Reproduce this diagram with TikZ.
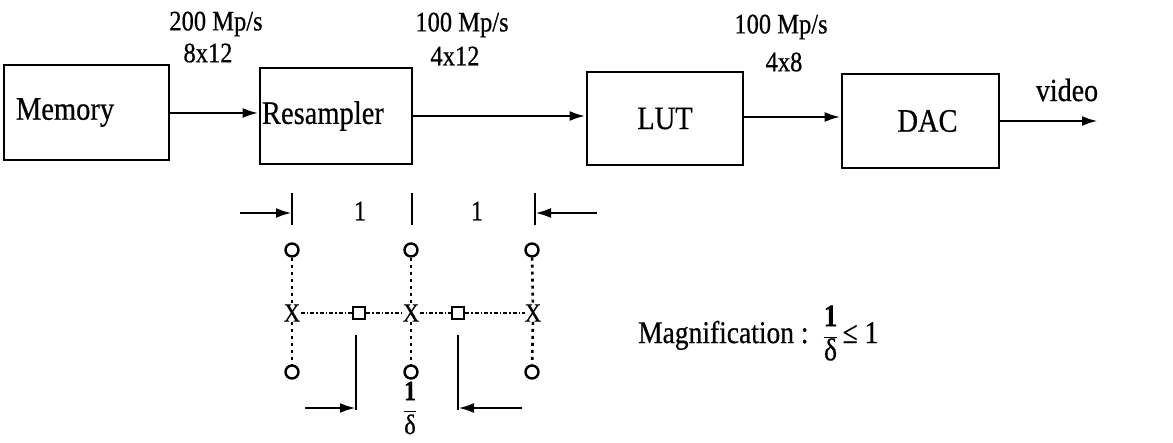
\documentclass[tikz,border=0pt]{standalone}
\usepackage{fontspec}
\setmainfont{Liberation Serif}[FakeBold=0.6]
\usepackage{graphicx}
\usetikzlibrary{arrows.meta}
\newcommand{\tallt}[1]{\scalebox{1}[1.15]{#1}}
\newcommand{\myfrac}{$\displaystyle\frac{\mbox{\tallt{\textbf{1}}}}{\mbox{\tallt{δ}}}$}
\begin{document}
\begin{tikzpicture}[x=1pt,y=-1pt,
  box/.style={draw,line width=2.8pt,inner sep=0pt,font=\fontsize{28.5}{30}\selectfont},
  lbl/.style={font=\fontsize{24.5}{28}\selectfont,inner sep=0pt},
  arr/.style={line width=2.8pt,-{Latex[length=16pt,width=10pt]}},
  circ/.style={draw,circle,line width=2.4pt,minimum size=13pt,inner sep=0pt},
  sq/.style={draw,line width=2.4pt,minimum size=12pt,inner sep=0pt},
  xm/.style={font=\fontsize{23}{23}\selectfont,inner sep=0pt},
  dotline/.style={line width=2.6pt,dash pattern=on 3pt off 4pt},
  hdot/.style={line width=1.5pt,dash pattern=on 4pt off 2pt on 1.5pt off 2pt},
  tick/.style={line width=2.8pt}]
\useasboundingbox (0,0) rectangle (1173,443);
% boxes
\node[box,minimum width=153pt,minimum height=95pt,text width=141pt,inner xsep=12pt,align=left] (mem) at (86.5,112.5) {\tallt{Memory}};
\node[box,minimum width=152pt,minimum height=96pt,text width=148pt,inner xsep=2pt,align=left] (res) at (336,116) {\tallt{Resampler}};
\node[box,minimum width=156pt,minimum height=93pt] (lut) at (665,118.5) {\tallt{LUT}};
\node[box,minimum width=157pt,minimum height=94pt] (dac) at (920.5,121) {\hspace*{14pt}\tallt{DAC}};
\coordinate (vid) at (1098,121);
% arrows
\draw[arr] (mem.east |- 0,113) -- (res.west |- 0,113);
\draw[arr] (res.east |- 0,116) -- (lut.west |- 0,116);
\draw[arr] (lut.east |- 0,117) -- (dac.west |- 0,117);
\draw[arr] (dac.east |- vid) -- (vid);
% labels
\node[lbl] (l1a) at (216,24) {\tallt{200 Mp/s}};
\node[lbl] (l1b) at (208,53) {\tallt{8x12}};
\node[lbl] (l2a) at (462,25) {\tallt{100 Mp/s}};
\node[lbl] (l2b) at (455,56) {\tallt{4x12}};
\node[lbl] (l3a) at (781,27) {\tallt{100 Mp/s}};
\node[lbl] (l3b) at (784,62) {\tallt{4x8}};
\node[lbl,font=\fontsize{28}{30}\selectfont] (vl) at (1067,90) {\tallt{video}};
% top ticks
\coordinate (t1a) at (292,193); \coordinate (t1b) at (292,225);
\coordinate (t2a) at (412,193); \coordinate (t2b) at (412,225);
\coordinate (t3a) at (535,193); \coordinate (t3b) at (535,225);
\draw[tick] (t1a) -- (t1b);
\draw[tick] (t2a) -- (t2b);
\draw[tick] (t3a) -- (t3b);
\coordinate (ta1) at (240,213);
\coordinate (ta3) at (597,213);
\draw[arr] (ta1) -- (292,213);
\draw[arr] (ta3) -- (535,213);
\node[lbl] (one1) at (360,211) {\tallt{1}};
\node[lbl] (one2) at (477,211) {\tallt{1}};
% circles
\node[circ] (c1t) at (292,250) {};
\node[circ] (c2t) at (411,250) {};
\node[circ] (c3t) at (532,250) {};
\node[circ] (c1b) at (292,372) {};
\node[circ] (c2b) at (411,372) {};
\node[circ] (c3b) at (532,372) {};
\node[xm] (x1) at (292,313) {\tallt{X}};
\node[xm] (x2) at (411,313) {\tallt{X}};
\node[xm] (x3) at (533,313) {\tallt{X}};
\node[sq] (s1) at (359,313) {};
\node[sq] (s2) at (458,313) {};
\foreach \i in {1,2,3}{
  \draw[dotline] (c\i t) -- (x\i);
  \draw[dotline] (x\i) -- (c\i b);
}
\draw[hdot] (x1) -- (s1) -- (x2) -- (s2) -- (x3);
% bottom ticks
\coordinate (b1a) at (356,335); \coordinate (b1b) at (356,410);
\coordinate (b2a) at (458,335); \coordinate (b2b) at (458,410);
\draw[tick] (b1a) -- (b1b);
\draw[tick] (b2a) -- (b2b);
\coordinate (ba1) at (305,408);
\coordinate (ba2) at (522,408);
\draw[arr] (ba1) -- (356,408);
\draw[arr] (ba2) -- (458,408);
\node[lbl] (frac1) at (410,408) {\myfrac};
% magnification
\node[lbl,font=\fontsize{27.5}{30}\selectfont,anchor=west] (mag) at (638,333) {\tallt{Magnification :}\hspace{14pt}\myfrac\hspace{4pt}\tallt{≤ 1}};
\end{tikzpicture}
\end{document}
